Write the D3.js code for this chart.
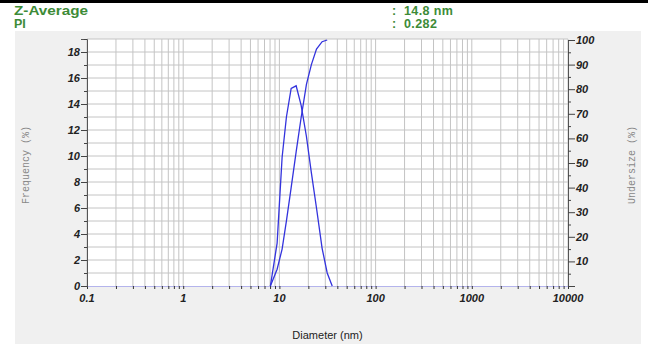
<!DOCTYPE html>
<html>
<head>
<meta charset="utf-8">
<script src="https://cdn.jsdelivr.net/npm/d3@7"></script>
<style>
  body { margin: 0; background: #fff; }
  svg { display: block; }
</style>
</head>
<body>
<div id="output"></div>
<script>
// size distribution
const diameters = [8.06, 9.47, 10.67, 11.83, 13.25, 14.93, 16.83, 19.1, 21.5, 24.3, 27.8, 31.4, 35.4];
const frequency = [0, 3.3, 9.9, 13.0, 15.2, 15.4, 13.9, 11.5, 8.7, 6.0, 2.9, 1.0, 0];
const undersize = [0, 6.8, 15, 26.5, 40, 54.5, 68.5, 82, 90, 96.3, 99.3, 100];
const xTickLabels = [0.1, 1, 10, 100, 1000, 10000];
const freqTicks = [0, 2, 4, 6, 8, 10, 12, 14, 16, 18];
const underTicks = [10, 20, 30, 40, 50, 60, 70, 80, 90, 100];
const summaryNames = ["Z-Average", "PI"];
const summaryValues = ["14.8 nm", "0.282"];

const W = 648, H = 345;
const pLeft = 87, pRight = 568, pTop = 40, pBottom = 286;
const green = "#3d8b37";
const blue = "#3333dd";
const tickFont = "'Liberation Sans', Arial, sans-serif";

const svg = d3.select("#output").append("svg").attr("width", W).attr("height", H);

// header
svg.append("rect").attr("x", 0).attr("y", 0).attr("width", W).attr("height", 3).style("fill", "#000");
summaryNames.forEach((name, i) => {
    const yy = 14.5 + i * 13.5;
    const t = svg.append("text").attr("x", 14).attr("y", yy)
        .style("font-family", tickFont).style("font-weight", "bold").style("font-size", "12.5px")
        .style("fill", green).text(name);
    if (i === 0) t.attr("textLength", 74).attr("lengthAdjust", "spacingAndGlyphs");
    svg.append("text").attr("x", 392).attr("y", yy)
        .style("font-family", tickFont).style("font-weight", "bold").style("font-size", "12.5px")
        .style("fill", green).text(":");
    svg.append("text").attr("x", 404).attr("y", yy)
        .style("font-family", tickFont).style("font-weight", "bold").style("font-size", "12.5px")
        .style("letter-spacing", "0.4px")
        .style("fill", green).text(summaryValues[i]);
});

// grey panel
svg.append("rect").attr("x", 15).attr("y", 31).attr("width", 626).attr("height", 313).style("fill", "#f0f0f0");

const x = d3.scaleLog().domain([0.1, 10000]).range([pLeft, pRight]);
const yF = d3.scaleLinear().domain([0, 19]).range([pBottom, pTop - 1]);
const yU = d3.scaleLinear().domain([0, 100]).range([pBottom, pTop]);

svg.append("rect").attr("x", pLeft).attr("y", pTop - 1).attr("width", pRight - pLeft).attr("height", pBottom - pTop + 1)
    .style("fill", "#fff");

// grid
const logTicks = [];
for (let e = -1; e < 4; e++) {
    for (let m = 1; m < 10; m++) logTicks.push(m * Math.pow(10, e));
}
logTicks.push(10000);
const grid = svg.append("g");
grid.selectAll("line.v").data(logTicks).join("line").attr("class", "v")
    .attr("x1", d => x(d)).attr("x2", d => x(d))
    .attr("y1", pTop - 1).attr("y2", pBottom)
    .style("stroke", "#c4c4c4").style("stroke-width", 1);
grid.selectAll("line.h").data(d3.range(1, 20)).join("line").attr("class", "h")
    .attr("x1", pLeft).attr("x2", pRight)
    .attr("y1", d => yF(d)).attr("y2", d => yF(d))
    .style("stroke", "#c4c4c4").style("stroke-width", 1);

// x axis
const xAxis = svg.append("g").attr("transform", `translate(0,${pBottom})`)
    .call(d3.axisBottom(x).tickValues(logTicks).tickSize(3).tickFormat(""));
xAxis.select(".domain").style("stroke", "#b4b4ec");
xAxis.selectAll(".tick line").style("stroke", "#333");
xAxis.selectAll("text.lbl").data(xTickLabels).join("text")
    .attr("class", "lbl")
    .attr("x", d => x(d)).attr("y", 16)
    .style("text-anchor", "middle").style("font-family", tickFont)
    .style("font-weight", "bold").style("font-style", "italic").style("font-size", "11px")
    .style("fill", "#222").text(d => d);

// left axis
const yAxisL = svg.append("g").attr("transform", `translate(${pLeft},0)`)
    .call(d3.axisLeft(yF).tickValues(d3.range(0, 20)).tickSize(6).tickFormat(""));
yAxisL.select(".domain").style("stroke", "#555");
yAxisL.selectAll(".tick line").style("stroke", "#444")
    .attr("x2", d => d % 2 === 0 ? -6 : -3);
yAxisL.selectAll("text.lbl").data(freqTicks).join("text")
    .attr("class", "lbl")
    .attr("x", -7).attr("y", d => yF(d) + 4)
    .style("text-anchor", "end").style("font-family", tickFont)
    .style("font-weight", "bold").style("font-style", "italic").style("font-size", "11px")
    .style("fill", "#222").text(d => d);

// right axis
const yAxisR = svg.append("g").attr("transform", `translate(${pRight},0)`)
    .call(d3.axisRight(yU).tickValues(d3.range(0, 101, 5)).tickSize(7).tickFormat(""));
yAxisR.select(".domain").style("stroke", "#555");
yAxisR.selectAll(".tick line").style("stroke", "#444")
    .attr("x2", d => d % 10 === 0 ? 7 : 3);
yAxisR.selectAll("text.lbl").data(underTicks).join("text")
    .attr("class", "lbl")
    .attr("x", 8).attr("y", d => yU(d) + 4)
    .style("text-anchor", "start").style("font-family", tickFont)
    .style("font-weight", "bold").style("font-style", "italic").style("font-size", "11px")
    .style("fill", "#222").text(d => d);

// axis titles
svg.append("text").attr("transform", "translate(29,165) rotate(-90)")
    .style("text-anchor", "middle").style("font-family", "'Liberation Mono', 'DejaVu Sans Mono', monospace")
    .style("font-size", "10px").style("fill", "#888").text("Frequency (%)");
svg.append("text").attr("transform", "translate(635,165) rotate(-90)")
    .style("text-anchor", "middle").style("font-family", "'Liberation Mono', 'DejaVu Sans Mono', monospace")
    .style("font-size", "10px").style("fill", "#888").text("Undersize (%)");
svg.append("text").attr("x", (pLeft + pRight) / 2).attr("y", 339)
    .style("text-anchor", "middle").style("font-family", tickFont)
    .style("font-size", "11px").style("fill", "#222").text("Diameter (nm)");

// curves
const freqLine = d3.line().x((d, i) => x(diameters[i])).y(d => yF(d));
const underLine = d3.line().x((d, i) => x(diameters[i])).y(d => yU(d));
svg.append("path").datum(frequency).attr("d", freqLine)
    .style("fill", "none").style("stroke", blue).style("stroke-width", 1.3);
svg.append("path").datum(undersize).attr("d", underLine)
    .style("fill", "none").style("stroke", blue).style("stroke-width", 1.3);
</script>
</body>
</html>
